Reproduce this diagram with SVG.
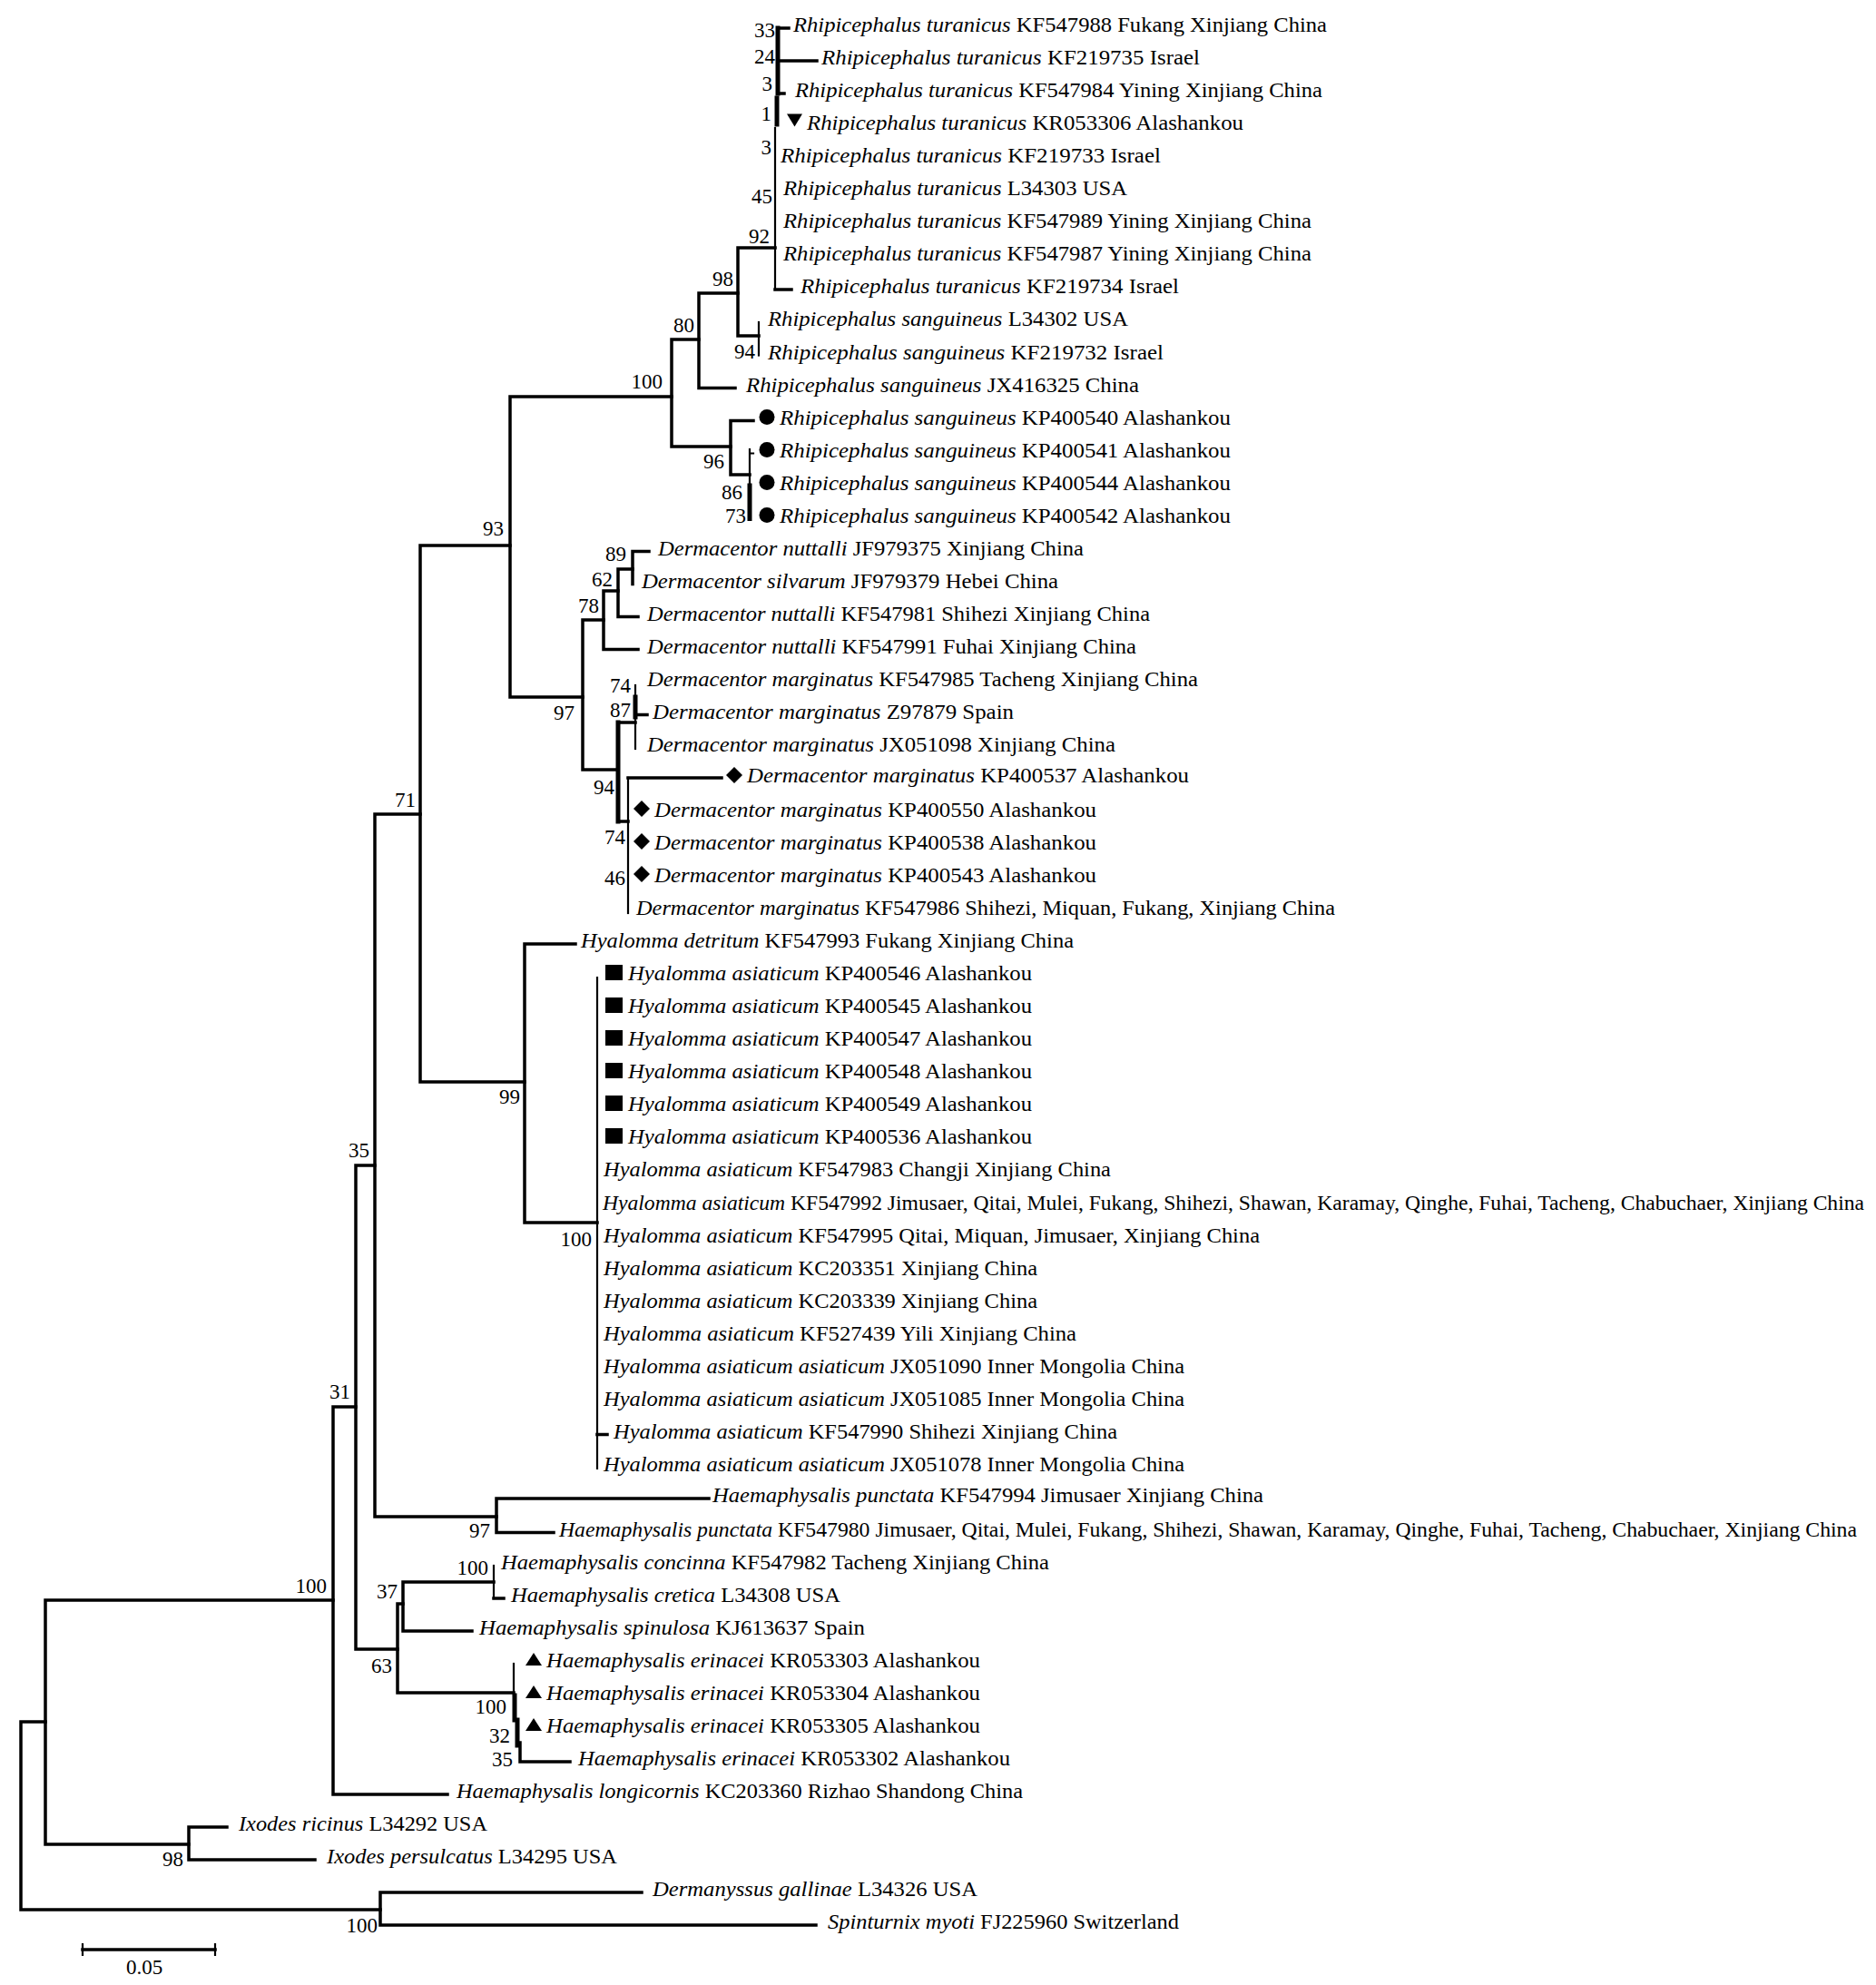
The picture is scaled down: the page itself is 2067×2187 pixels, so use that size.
<svg xmlns="http://www.w3.org/2000/svg" width="2067" height="2187" viewBox="0 0 2067 2187">
<style>
  .bg{fill:#fff}
  .e{fill:none;stroke:#000;stroke-width:3.5;stroke-linecap:square}
  .t{fill:none;stroke:#000;stroke-width:2.2;stroke-linecap:square}
  .k{fill:none;stroke:#000;stroke-width:5;stroke-linecap:square}
  .lf{font-family:"Liberation Serif","Times New Roman","DejaVu Serif",serif;font-size:24px;fill:#000}
  .i{font-style:italic}
  .bs{font-family:"Liberation Serif","Times New Roman","DejaVu Serif",serif;font-size:23px;fill:#000;text-anchor:end}
  .mk{fill:#000}
</style>
<defs>
  <circle id="mc" r="8.5"/>
  <path id="md" d="M0,-9 L9,0 L0,9 L-9,0Z"/>
  <rect id="ms" x="-9.5" y="-8.5" width="19" height="17"/>
  <path id="mt" d="M-9,7 L9,7 L0,-7Z"/>
  <path id="mv" d="M-8.5,-7 L8.5,-7 L0,7Z"/>
</defs>
<rect class="bg" x="0" y="0" width="2067" height="2187"/>

<g id="connectors">
  <path class="e" d="M23 1897 V2104 M23 1897 H50 M23 2104 H419"/>
  <path class="e" d="M50 1763 V2032 M50 1763 H367 M50 2032 H208"/>
  <path class="e" d="M208 2013 V2049 M208 2013 H250 M208 2049 H347"/>
  <path class="e" d="M419 2085 V2121 M419 2085 H707 M419 2121 H899"/>
  <path class="e" d="M367 1550 V1977 M367 1550 H392 M367 1977 H493"/>
  <path class="e" d="M392 1284 V1817 M392 1284 H413 M392 1817 H438"/>
  <path class="e" d="M413 897 V1671 M413 897 H463 M413 1671 H547"/>
  <path class="e" d="M547 1651 V1688.5 M547 1651 H781 M547 1688.5 H610"/>
  <path class="e" d="M463 601 V1192 M463 601 H562 M463 1192 H578"/>
  <path class="e" d="M562 437 V768 M562 437 H740 M562 768 H642"/>
  <path class="e" d="M740 374 V492 M740 374 H770 M740 492 H805"/>
  <path class="e" d="M770 323 V427.5 M770 323 H813 M770 427.5 H810"/>
  <path class="e" d="M813 273 V370 M813 273 H854 M813 370 H836"/>
  <path class="t" d="M836 355 V391.5"/>
  <path class="t" d="M854 141 V319"/>
  <path class="e" d="M854 319 H872"/>
  <path class="k" d="M857 31 V103"/>
  <path class="k" d="M856 108 V137"/>
  <path class="e" d="M857 31 H869 M857 67 H900 M857 103 H864"/>
  <path class="e" d="M805 463.5 V523 M805 463.5 H830 M805 523 H826"/>
  <path class="t" d="M826 495 V535 M826 499.5 H830"/>
  <path class="k" d="M826 535 V571.5"/>
  <path class="e" d="M642 683 V848 M642 683 H665 M642 848 H680"/>
  <path class="e" d="M665 651 V715.5 M665 651 H681 M665 715.5 H703"/>
  <path class="e" d="M681 627 V679.5 M681 627 H697 M681 679.5 H703"/>
  <path class="e" d="M697 607.5 V643.5 M697 607.5 H715"/>
  <path class="k" d="M681 796 V905"/>
  <path class="e" d="M681 796 H700 M681 905 H692"/>
  <path class="t" d="M700 755 V825"/>
  <path class="k" d="M700 768 V790"/>
  <path class="e" d="M700 787.5 H713"/>
  <path class="t" d="M692 857 V1006"/>
  <path class="e" d="M692 857 H795"/>
  <path class="e" d="M578 1040 V1347 M578 1040 H634 M578 1347 H658"/>
  <path class="t" d="M658 1077 V1618"/>
  <path class="e" d="M658 1580.5 H669"/>
  <path class="e" d="M438 1767 V1865 M438 1767 H444 M438 1865 H566"/>
  <path class="e" d="M444 1743 V1797 M444 1743 H544 M444 1797 H520"/>
  <path class="t" d="M544 1725 V1761"/>
  <path class="e" d="M544 1761 H555"/>
  <path class="t" d="M566 1833 V1868"/>
  <path class="k" d="M567 1868 V1895"/>
  <path class="k" d="M570 1895 V1923"/>
  <path class="e" d="M573 1920 V1941 M573 1941 H628"/>
</g>

<g id="scale-bar">
  <path class="e" d="M91 2148 H237"/>
  <path class="t" d="M91 2142 V2154 M237 2142 V2154"/>
  <text class="bs" x="159" y="2175" style="text-anchor:middle">0.05</text>
</g>

<g id="support-values">
  <text class="bs" x="854" y="41">33</text>
  <text class="bs" x="854" y="70">24</text>
  <text class="bs" x="851" y="100">3</text>
  <text class="bs" x="850" y="133">1</text>
  <text class="bs" x="850" y="170">3</text>
  <text class="bs" x="851" y="224">45</text>
  <text class="bs" x="848" y="268">92</text>
  <text class="bs" x="808" y="315">98</text>
  <text class="bs" x="765" y="366">80</text>
  <text class="bs" x="730" y="428">100</text>
  <text class="bs" x="832" y="395">94</text>
  <text class="bs" x="798" y="516">96</text>
  <text class="bs" x="818" y="550">86</text>
  <text class="bs" x="822" y="576">73</text>
  <text class="bs" x="690" y="618">89</text>
  <text class="bs" x="675" y="646">62</text>
  <text class="bs" x="660" y="675">78</text>
  <text class="bs" x="633" y="793">97</text>
  <text class="bs" x="695" y="763">74</text>
  <text class="bs" x="695" y="790">87</text>
  <text class="bs" x="677" y="875">94</text>
  <text class="bs" x="689" y="930">74</text>
  <text class="bs" x="689" y="975">46</text>
  <text class="bs" x="555" y="590">93</text>
  <text class="bs" x="458" y="889">71</text>
  <text class="bs" x="573" y="1216">99</text>
  <text class="bs" x="407" y="1275">35</text>
  <text class="bs" x="652" y="1373">100</text>
  <text class="bs" x="386" y="1541">31</text>
  <text class="bs" x="540" y="1694">97</text>
  <text class="bs" x="538" y="1735">100</text>
  <text class="bs" x="438" y="1761">37</text>
  <text class="bs" x="432" y="1843">63</text>
  <text class="bs" x="558" y="1888">100</text>
  <text class="bs" x="562" y="1920">32</text>
  <text class="bs" x="565" y="1946">35</text>
  <text class="bs" x="360" y="1755">100</text>
  <text class="bs" x="202" y="2056">98</text>
  <text class="bs" x="416" y="2129">100</text>
</g>

<g id="leaf-01"><text class="lf" x="874" y="35" textLength="588" lengthAdjust="spacingAndGlyphs"><tspan class="i">Rhipicephalus turanicus</tspan> KF547988 Fukang Xinjiang China</text></g>
<g id="leaf-02"><text class="lf" x="905" y="71" textLength="417" lengthAdjust="spacingAndGlyphs"><tspan class="i">Rhipicephalus turanicus</tspan> KF219735 Israel</text></g>
<g id="leaf-03"><text class="lf" x="876" y="107" textLength="581" lengthAdjust="spacingAndGlyphs"><tspan class="i">Rhipicephalus turanicus</tspan> KF547984 Yining Xinjiang China</text></g>
<g id="leaf-04"><use href="#mv" class="mk" x="875.5" y="132.5"/><text class="lf" x="889" y="143" textLength="481" lengthAdjust="spacingAndGlyphs"><tspan class="i">Rhipicephalus turanicus</tspan> KR053306 Alashankou</text></g>
<g id="leaf-05"><text class="lf" x="860" y="179" textLength="419" lengthAdjust="spacingAndGlyphs"><tspan class="i">Rhipicephalus turanicus</tspan> KF219733 Israel</text></g>
<g id="leaf-06"><text class="lf" x="863" y="215" textLength="379" lengthAdjust="spacingAndGlyphs"><tspan class="i">Rhipicephalus turanicus</tspan> L34303 USA</text></g>
<g id="leaf-07"><text class="lf" x="863" y="251" textLength="582" lengthAdjust="spacingAndGlyphs"><tspan class="i">Rhipicephalus turanicus</tspan> KF547989 Yining Xinjiang China</text></g>
<g id="leaf-08"><text class="lf" x="863" y="287" textLength="582" lengthAdjust="spacingAndGlyphs"><tspan class="i">Rhipicephalus turanicus</tspan> KF547987 Yining Xinjiang China</text></g>
<g id="leaf-09"><text class="lf" x="882" y="323" textLength="417" lengthAdjust="spacingAndGlyphs"><tspan class="i">Rhipicephalus turanicus</tspan> KF219734 Israel</text></g>
<g id="leaf-10"><text class="lf" x="846" y="359" textLength="397" lengthAdjust="spacingAndGlyphs"><tspan class="i">Rhipicephalus sanguineus</tspan> L34302 USA</text></g>
<g id="leaf-11"><text class="lf" x="846" y="395.5" textLength="436" lengthAdjust="spacingAndGlyphs"><tspan class="i">Rhipicephalus sanguineus</tspan> KF219732 Israel</text></g>
<g id="leaf-12"><text class="lf" x="822" y="431.5" textLength="433" lengthAdjust="spacingAndGlyphs"><tspan class="i">Rhipicephalus sanguineus</tspan> JX416325 China</text></g>
<g id="leaf-13"><use href="#mc" class="mk" x="845" y="459.5"/><text class="lf" x="859" y="467.5" textLength="497" lengthAdjust="spacingAndGlyphs"><tspan class="i">Rhipicephalus sanguineus</tspan> KP400540 Alashankou</text></g>
<g id="leaf-14"><use href="#mc" class="mk" x="845" y="495.5"/><text class="lf" x="859" y="503.5" textLength="497" lengthAdjust="spacingAndGlyphs"><tspan class="i">Rhipicephalus sanguineus</tspan> KP400541 Alashankou</text></g>
<g id="leaf-15"><use href="#mc" class="mk" x="845" y="531.5"/><text class="lf" x="859" y="539.5" textLength="497" lengthAdjust="spacingAndGlyphs"><tspan class="i">Rhipicephalus sanguineus</tspan> KP400544 Alashankou</text></g>
<g id="leaf-16"><use href="#mc" class="mk" x="845" y="567.5"/><text class="lf" x="859" y="575.5" textLength="497" lengthAdjust="spacingAndGlyphs"><tspan class="i">Rhipicephalus sanguineus</tspan> KP400542 Alashankou</text></g>
<g id="leaf-17"><text class="lf" x="725" y="611.5" textLength="469" lengthAdjust="spacingAndGlyphs"><tspan class="i">Dermacentor nuttalli</tspan> JF979375 Xinjiang China</text></g>
<g id="leaf-18"><text class="lf" x="707" y="647.5" textLength="459" lengthAdjust="spacingAndGlyphs"><tspan class="i">Dermacentor silvarum</tspan> JF979379 Hebei China</text></g>
<g id="leaf-19"><text class="lf" x="713" y="683.5" textLength="554" lengthAdjust="spacingAndGlyphs"><tspan class="i">Dermacentor nuttalli</tspan> KF547981 Shihezi Xinjiang China</text></g>
<g id="leaf-20"><text class="lf" x="713" y="719.5" textLength="539" lengthAdjust="spacingAndGlyphs"><tspan class="i">Dermacentor nuttalli</tspan> KF547991 Fuhai Xinjiang China</text></g>
<g id="leaf-21"><text class="lf" x="713" y="755.5" textLength="607" lengthAdjust="spacingAndGlyphs"><tspan class="i">Dermacentor marginatus</tspan> KF547985 Tacheng Xinjiang China</text></g>
<g id="leaf-22"><text class="lf" x="719" y="791.5" textLength="398" lengthAdjust="spacingAndGlyphs"><tspan class="i">Dermacentor marginatus</tspan> Z97879 Spain</text></g>
<g id="leaf-23"><text class="lf" x="713" y="827.5" textLength="516" lengthAdjust="spacingAndGlyphs"><tspan class="i">Dermacentor marginatus</tspan> JX051098 Xinjiang China</text></g>
<g id="leaf-24"><use href="#md" class="mk" x="809" y="854"/><text class="lf" x="823" y="862" textLength="487" lengthAdjust="spacingAndGlyphs"><tspan class="i">Dermacentor marginatus</tspan> KP400537 Alashankou</text></g>
<g id="leaf-25"><use href="#md" class="mk" x="707" y="891"/><text class="lf" x="721" y="899.5" textLength="487" lengthAdjust="spacingAndGlyphs"><tspan class="i">Dermacentor marginatus</tspan> KP400550 Alashankou</text></g>
<g id="leaf-26"><use href="#md" class="mk" x="707" y="927"/><text class="lf" x="721" y="935.5" textLength="487" lengthAdjust="spacingAndGlyphs"><tspan class="i">Dermacentor marginatus</tspan> KP400538 Alashankou</text></g>
<g id="leaf-27"><use href="#md" class="mk" x="707" y="963"/><text class="lf" x="721" y="972" textLength="487" lengthAdjust="spacingAndGlyphs"><tspan class="i">Dermacentor marginatus</tspan> KP400543 Alashankou</text></g>
<g id="leaf-28"><text class="lf" x="701" y="1008" textLength="770" lengthAdjust="spacingAndGlyphs"><tspan class="i">Dermacentor marginatus</tspan> KF547986 Shihezi, Miquan, Fukang, Xinjiang China</text></g>
<g id="leaf-29"><text class="lf" x="640" y="1044" textLength="543" lengthAdjust="spacingAndGlyphs"><tspan class="i">Hyalomma detritum</tspan> KF547993 Fukang Xinjiang China</text></g>
<g id="leaf-30"><use href="#ms" class="mk" x="676.5" y="1071.5"/><text class="lf" x="692" y="1080" textLength="445" lengthAdjust="spacingAndGlyphs"><tspan class="i">Hyalomma asiaticum</tspan> KP400546 Alashankou</text></g>
<g id="leaf-31"><use href="#ms" class="mk" x="676.5" y="1107.5"/><text class="lf" x="692" y="1116" textLength="445" lengthAdjust="spacingAndGlyphs"><tspan class="i">Hyalomma asiaticum</tspan> KP400545 Alashankou</text></g>
<g id="leaf-32"><use href="#ms" class="mk" x="676.5" y="1143.5"/><text class="lf" x="692" y="1152" textLength="445" lengthAdjust="spacingAndGlyphs"><tspan class="i">Hyalomma asiaticum</tspan> KP400547 Alashankou</text></g>
<g id="leaf-33"><use href="#ms" class="mk" x="676.5" y="1179.5"/><text class="lf" x="692" y="1188" textLength="445" lengthAdjust="spacingAndGlyphs"><tspan class="i">Hyalomma asiaticum</tspan> KP400548 Alashankou</text></g>
<g id="leaf-34"><use href="#ms" class="mk" x="676.5" y="1215.5"/><text class="lf" x="692" y="1224" textLength="445" lengthAdjust="spacingAndGlyphs"><tspan class="i">Hyalomma asiaticum</tspan> KP400549 Alashankou</text></g>
<g id="leaf-35"><use href="#ms" class="mk" x="676.5" y="1251.5"/><text class="lf" x="692" y="1260" textLength="445" lengthAdjust="spacingAndGlyphs"><tspan class="i">Hyalomma asiaticum</tspan> KP400536 Alashankou</text></g>
<g id="leaf-36"><text class="lf" x="665" y="1296" textLength="559" lengthAdjust="spacingAndGlyphs"><tspan class="i">Hyalomma asiaticum</tspan> KF547983 Changji Xinjiang China</text></g>
<g id="leaf-37"><text class="lf" x="664" y="1332.5" style="font-size:22.5px" textLength="1390" lengthAdjust="spacingAndGlyphs"><tspan class="i">Hyalomma asiaticum</tspan> KF547992 Jimusaer, Qitai, Mulei, Fukang, Shihezi, Shawan, Karamay, Qinghe, Fuhai, Tacheng, Chabuchaer, Xinjiang China</text></g>
<g id="leaf-38"><text class="lf" x="665" y="1368.5" textLength="723" lengthAdjust="spacingAndGlyphs"><tspan class="i">Hyalomma asiaticum</tspan> KF547995 Qitai, Miquan, Jimusaer, Xinjiang China</text></g>
<g id="leaf-39"><text class="lf" x="665" y="1404.5" textLength="478" lengthAdjust="spacingAndGlyphs"><tspan class="i">Hyalomma asiaticum</tspan> KC203351 Xinjiang China</text></g>
<g id="leaf-40"><text class="lf" x="665" y="1440.5" textLength="478" lengthAdjust="spacingAndGlyphs"><tspan class="i">Hyalomma asiaticum</tspan> KC203339 Xinjiang China</text></g>
<g id="leaf-41"><text class="lf" x="665" y="1476.5" textLength="521" lengthAdjust="spacingAndGlyphs"><tspan class="i">Hyalomma asiaticum</tspan> KF527439 Yili Xinjiang China</text></g>
<g id="leaf-42"><text class="lf" x="665" y="1512.5" textLength="640" lengthAdjust="spacingAndGlyphs"><tspan class="i">Hyalomma asiaticum asiaticum</tspan> JX051090 Inner Mongolia China</text></g>
<g id="leaf-43"><text class="lf" x="665" y="1548.5" textLength="640" lengthAdjust="spacingAndGlyphs"><tspan class="i">Hyalomma asiaticum asiaticum</tspan> JX051085 Inner Mongolia China</text></g>
<g id="leaf-44"><text class="lf" x="676" y="1584.5" textLength="555" lengthAdjust="spacingAndGlyphs"><tspan class="i">Hyalomma asiaticum</tspan> KF547990 Shihezi Xinjiang China</text></g>
<g id="leaf-45"><text class="lf" x="665" y="1620.5" textLength="640" lengthAdjust="spacingAndGlyphs"><tspan class="i">Hyalomma asiaticum asiaticum</tspan> JX051078 Inner Mongolia China</text></g>
<g id="leaf-46"><text class="lf" x="785" y="1655" textLength="607" lengthAdjust="spacingAndGlyphs"><tspan class="i">Haemaphysalis punctata</tspan> KF547994 Jimusaer Xinjiang China</text></g>
<g id="leaf-47"><text class="lf" x="616" y="1692.5" style="font-size:23px" textLength="1430" lengthAdjust="spacingAndGlyphs"><tspan class="i">Haemaphysalis punctata</tspan> KF547980 Jimusaer, Qitai, Mulei, Fukang, Shihezi, Shawan, Karamay, Qinghe, Fuhai, Tacheng, Chabuchaer, Xinjiang China</text></g>
<g id="leaf-48"><text class="lf" x="552" y="1728.5" textLength="604" lengthAdjust="spacingAndGlyphs"><tspan class="i">Haemaphysalis concinna</tspan> KF547982 Tacheng Xinjiang China</text></g>
<g id="leaf-49"><text class="lf" x="563" y="1764.5" textLength="363" lengthAdjust="spacingAndGlyphs"><tspan class="i">Haemaphysalis cretica</tspan> L34308 USA</text></g>
<g id="leaf-50"><text class="lf" x="528" y="1800.5" textLength="425" lengthAdjust="spacingAndGlyphs"><tspan class="i">Haemaphysalis spinulosa</tspan> KJ613637 Spain</text></g>
<g id="leaf-51"><use href="#mt" class="mk" x="588" y="1828"/><text class="lf" x="602" y="1836.5" textLength="478" lengthAdjust="spacingAndGlyphs"><tspan class="i">Haemaphysalis erinacei</tspan> KR053303 Alashankou</text></g>
<g id="leaf-52"><use href="#mt" class="mk" x="588" y="1864"/><text class="lf" x="602" y="1873" textLength="478" lengthAdjust="spacingAndGlyphs"><tspan class="i">Haemaphysalis erinacei</tspan> KR053304 Alashankou</text></g>
<g id="leaf-53"><use href="#mt" class="mk" x="588" y="1900"/><text class="lf" x="602" y="1909" textLength="478" lengthAdjust="spacingAndGlyphs"><tspan class="i">Haemaphysalis erinacei</tspan> KR053305 Alashankou</text></g>
<g id="leaf-54"><text class="lf" x="637" y="1945" textLength="476" lengthAdjust="spacingAndGlyphs"><tspan class="i">Haemaphysalis erinacei</tspan> KR053302 Alashankou</text></g>
<g id="leaf-55"><text class="lf" x="503" y="1981" textLength="624" lengthAdjust="spacingAndGlyphs"><tspan class="i">Haemaphysalis longicornis</tspan> KC203360 Rizhao Shandong China</text></g>
<g id="leaf-56"><text class="lf" x="263" y="2017" textLength="274" lengthAdjust="spacingAndGlyphs"><tspan class="i">Ixodes ricinus</tspan> L34292 USA</text></g>
<g id="leaf-57"><text class="lf" x="360" y="2053" textLength="320" lengthAdjust="spacingAndGlyphs"><tspan class="i">Ixodes persulcatus</tspan> L34295 USA</text></g>
<g id="leaf-58"><text class="lf" x="719" y="2089" textLength="358" lengthAdjust="spacingAndGlyphs"><tspan class="i">Dermanyssus gallinae</tspan> L34326 USA</text></g>
<g id="leaf-59"><text class="lf" x="912" y="2125" textLength="387" lengthAdjust="spacingAndGlyphs"><tspan class="i">Spinturnix myoti</tspan> FJ225960 Switzerland</text></g>
</svg>
